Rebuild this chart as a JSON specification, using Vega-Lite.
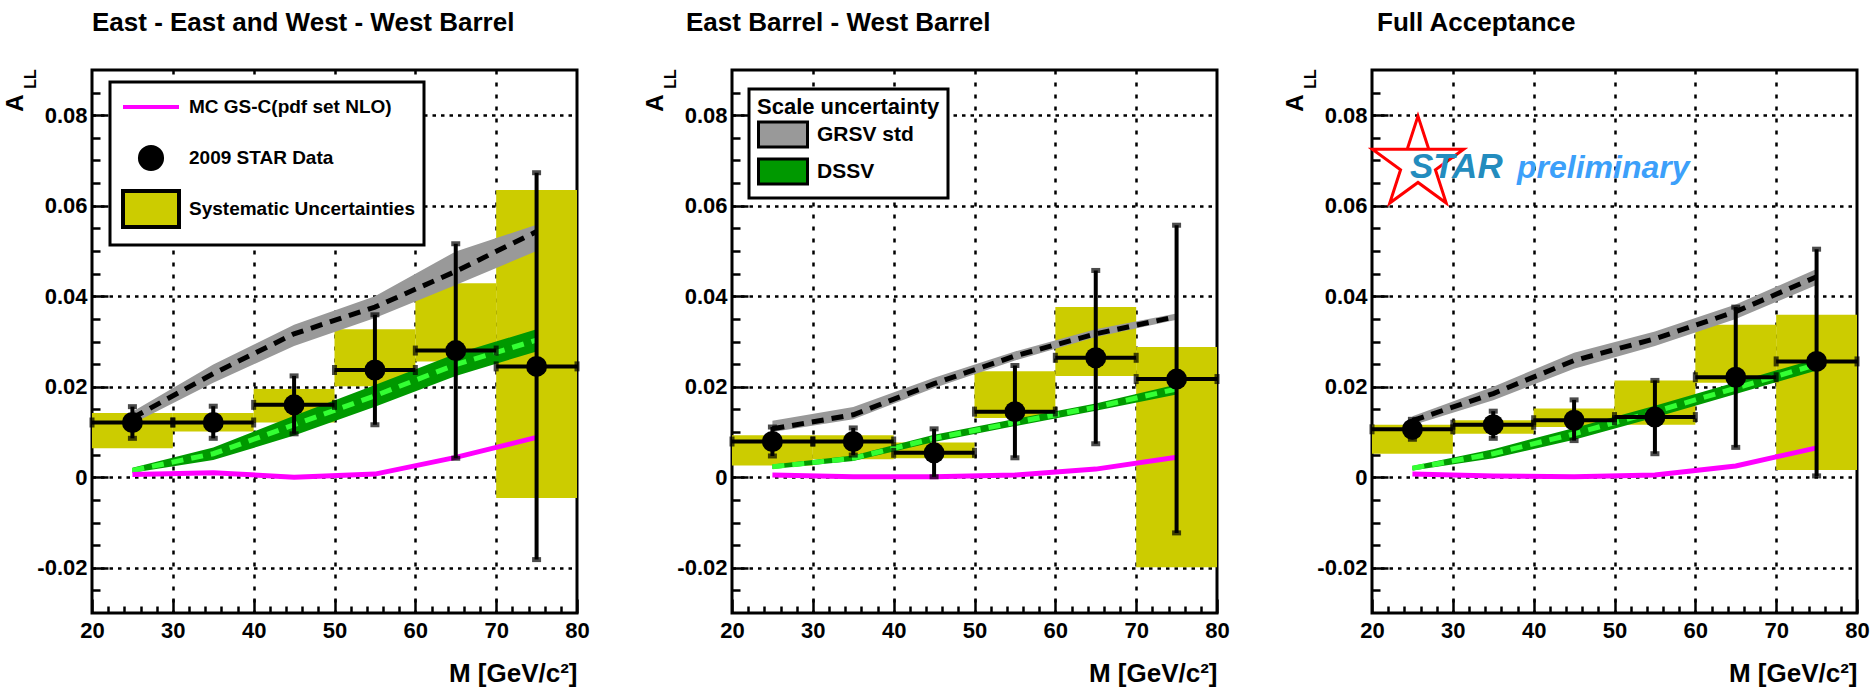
{
  "$schema": "https://vega.github.io/schema/vega-lite/v6.json",
  "background": "white",
  "padding": {"left": 1, "top": 8, "right": 5, "bottom": 5},
  "spacing": 155,
  "bounds": "flush",
  "datasets": {
    "points": [
      {"panel": 1, "M": 25, "A": 0.0121, "statLo": 0.0086, "statHi": 0.0156, "binLo": 20, "binHi": 30, "sysLo": 0.0064, "sysHi": 0.0142},
      {"panel": 1, "M": 35, "A": 0.0121, "statLo": 0.0086, "statHi": 0.0157, "binLo": 30, "binHi": 40, "sysLo": 0.0101, "sysHi": 0.0142},
      {"panel": 1, "M": 45, "A": 0.0160, "statLo": 0.0096, "statHi": 0.0224, "binLo": 40, "binHi": 50, "sysLo": 0.0121, "sysHi": 0.0195},
      {"panel": 1, "M": 55, "A": 0.0237, "statLo": 0.0116, "statHi": 0.0359, "binLo": 50, "binHi": 60, "sysLo": 0.0201, "sysHi": 0.0327},
      {"panel": 1, "M": 65, "A": 0.0280, "statLo": 0.0042, "statHi": 0.0516, "binLo": 60, "binHi": 70, "sysLo": 0.0256, "sysHi": 0.0429},
      {"panel": 1, "M": 75, "A": 0.0245, "statLo": -0.0182, "statHi": 0.0673, "binLo": 70, "binHi": 80, "sysLo": -0.0046, "sysHi": 0.0635},
      {"panel": 2, "M": 25, "A": 0.0079, "statLo": 0.0047, "statHi": 0.0111, "binLo": 20, "binHi": 30, "sysLo": 0.0026, "sysHi": 0.0093},
      {"panel": 2, "M": 35, "A": 0.0079, "statLo": 0.0049, "statHi": 0.0109, "binLo": 30, "binHi": 40, "sysLo": 0.0040, "sysHi": 0.0093},
      {"panel": 2, "M": 45, "A": 0.0054, "statLo": 0.0001, "statHi": 0.0107, "binLo": 40, "binHi": 50, "sysLo": 0.0042, "sysHi": 0.0077},
      {"panel": 2, "M": 55, "A": 0.0145, "statLo": 0.0043, "statHi": 0.0247, "binLo": 50, "binHi": 60, "sysLo": 0.0131, "sysHi": 0.0234},
      {"panel": 2, "M": 65, "A": 0.0264, "statLo": 0.0074, "statHi": 0.0457, "binLo": 60, "binHi": 70, "sysLo": 0.0224, "sysHi": 0.0376},
      {"panel": 2, "M": 75, "A": 0.0217, "statLo": -0.0123, "statHi": 0.0557, "binLo": 70, "binHi": 80, "sysLo": -0.0199, "sysHi": 0.0288},
      {"panel": 3, "M": 25, "A": 0.0106, "statLo": 0.0084, "statHi": 0.0128, "binLo": 20, "binHi": 30, "sysLo": 0.0052, "sysHi": 0.0116},
      {"panel": 3, "M": 35, "A": 0.0116, "statLo": 0.0086, "statHi": 0.0146, "binLo": 30, "binHi": 40, "sysLo": 0.0096, "sysHi": 0.0126},
      {"panel": 3, "M": 45, "A": 0.0126, "statLo": 0.0081, "statHi": 0.0171, "binLo": 40, "binHi": 50, "sysLo": 0.0111, "sysHi": 0.0152},
      {"panel": 3, "M": 55, "A": 0.0133, "statLo": 0.0052, "statHi": 0.0214, "binLo": 50, "binHi": 60, "sysLo": 0.0116, "sysHi": 0.0214},
      {"panel": 3, "M": 65, "A": 0.0221, "statLo": 0.0066, "statHi": 0.0376, "binLo": 60, "binHi": 70, "sysLo": 0.0209, "sysHi": 0.0337},
      {"panel": 3, "M": 75, "A": 0.0256, "statLo": 0.0003, "statHi": 0.0504, "binLo": 70, "binHi": 80, "sysLo": 0.0016, "sysHi": 0.0359}
    ],
    "theory": [
      {"panel": 1, "M": 25, "grsv": 0.0131, "grsvLo": 0.0118, "grsvHi": 0.0145, "dssv": 0.0015, "dssvLo": 0.0010, "dssvHi": 0.0021, "mc": 0.0006},
      {"panel": 1, "M": 35, "grsv": 0.0229, "grsvLo": 0.0209, "grsvHi": 0.0249, "dssv": 0.0052, "dssvLo": 0.0038, "dssvHi": 0.0066, "mc": 0.0010},
      {"panel": 1, "M": 45, "grsv": 0.0317, "grsvLo": 0.0290, "grsvHi": 0.0337, "dssv": 0.0116, "dssvLo": 0.0092, "dssvHi": 0.0136, "mc": 0.0000},
      {"panel": 1, "M": 55, "grsv": 0.0376, "grsvLo": 0.0352, "grsvHi": 0.0400, "dssv": 0.0180, "dssvLo": 0.0156, "dssvHi": 0.0204, "mc": 0.0007},
      {"panel": 1, "M": 65, "grsv": 0.0455, "grsvLo": 0.0425, "grsvHi": 0.0499, "dssv": 0.0249, "dssvLo": 0.0224, "dssvHi": 0.0273, "mc": 0.0044},
      {"panel": 1, "M": 75, "grsv": 0.0543, "grsvLo": 0.0500, "grsvHi": 0.0558, "dssv": 0.0303, "dssvLo": 0.0278, "dssvHi": 0.0327, "mc": 0.0088},
      {"panel": 2, "M": 25, "grsv": 0.0107, "grsvLo": 0.0100, "grsvHi": 0.0125, "dssv": 0.0023, "dssvLo": 0.0018, "dssvHi": 0.0028, "mc": 0.0005},
      {"panel": 2, "M": 35, "grsv": 0.0138, "grsvLo": 0.0128, "grsvHi": 0.0155, "dssv": 0.0042, "dssvLo": 0.0036, "dssvHi": 0.0048, "mc": 0.0001},
      {"panel": 2, "M": 45, "grsv": 0.0207, "grsvLo": 0.0197, "grsvHi": 0.0220, "dssv": 0.0086, "dssvLo": 0.0078, "dssvHi": 0.0094, "mc": 0.0001},
      {"panel": 2, "M": 55, "grsv": 0.0268, "grsvLo": 0.0258, "grsvHi": 0.0278, "dssv": 0.0121, "dssvLo": 0.0113, "dssvHi": 0.0129, "mc": 0.0005},
      {"panel": 2, "M": 65, "grsv": 0.0317, "grsvLo": 0.0310, "grsvHi": 0.0327, "dssv": 0.0155, "dssvLo": 0.0147, "dssvHi": 0.0163, "mc": 0.0018},
      {"panel": 2, "M": 75, "grsv": 0.0355, "grsvLo": 0.0348, "grsvHi": 0.0362, "dssv": 0.0195, "dssvLo": 0.0183, "dssvHi": 0.0205, "mc": 0.0044},
      {"panel": 3, "M": 25, "grsv": 0.0125, "grsvLo": 0.0115, "grsvHi": 0.0135, "dssv": 0.0020, "dssvLo": 0.0015, "dssvHi": 0.0025, "mc": 0.0007},
      {"panel": 3, "M": 35, "grsv": 0.0185, "grsvLo": 0.0170, "grsvHi": 0.0200, "dssv": 0.0052, "dssvLo": 0.0042, "dssvHi": 0.0062, "mc": 0.0003},
      {"panel": 3, "M": 45, "grsv": 0.0258, "grsvLo": 0.0240, "grsvHi": 0.0275, "dssv": 0.0096, "dssvLo": 0.0083, "dssvHi": 0.0109, "mc": 0.0001},
      {"panel": 3, "M": 55, "grsv": 0.0306, "grsvLo": 0.0290, "grsvHi": 0.0322, "dssv": 0.0145, "dssvLo": 0.0132, "dssvHi": 0.0158, "mc": 0.0005},
      {"panel": 3, "M": 65, "grsv": 0.0366, "grsvLo": 0.0350, "grsvHi": 0.0382, "dssv": 0.0197, "dssvLo": 0.0184, "dssvHi": 0.0210, "mc": 0.0025},
      {"panel": 3, "M": 75, "grsv": 0.0443, "grsvLo": 0.0425, "grsvHi": 0.0460, "dssv": 0.0249, "dssvLo": 0.0236, "dssvHi": 0.0262, "mc": 0.0065}
    ],
    "sub": [{"label": "LL", "M": 12.5, "A": 0.088}],
    "logoText": [
      {"label": "STAR", "M": 24.7, "A": 0.0661},
      {"label": "preliminary", "M": 37.94, "A": 0.0661}
    ],
    "logoStar": [{"M": 25.69, "A": 0.0692}]
  },
  "config": {
    "view": {"stroke": "black", "strokeWidth": 3},
    "font": "Liberation Sans",
    "title": {"font": "Liberation Sans", "fontSize": 26, "fontWeight": "bold", "color": "black", "anchor": "start", "frame": "group", "baseline": "alphabetic", "offset": 33},
    "axis": {
      "grid": true, "gridColor": "black", "gridWidth": 2.5,
      "tickColor": "black", "tickWidth": 2.5,
      "domain": false,
      "labelFont": "Liberation Sans", "labelFontSize": 22, "labelFontWeight": "bold", "labelColor": "black",
      "labelFlush": false, "labelOverlap": false,
      "titleFont": "Liberation Sans", "titleFontWeight": "bold", "titleColor": "black"
    },
    "legend": {
      "orient": "none",
      "labelFont": "Liberation Sans", "labelFontWeight": "bold", "labelColor": "black", "labelLimit": 0,
      "titleFont": "Liberation Sans", "titleFontWeight": "bold", "titleColor": "black", "titleLimit": 0,
      "strokeColor": "black", "fillColor": "white", "cornerRadius": 0, "strokeWidth": 3,
      "symbolOpacity": 1, "symbolStrokeWidth": 4, "gridAlign": "all"
    }
  },
  "resolve": {"scale": {"fill": "independent", "stroke": "independent", "shape": "independent"}},
  "hconcat": [
    {
      "width": 485, "height": 543,
      "title": {"text": "East - East and West - West Barrel", "dx": 0},
      "resolve": {"axis": {"x": "independent", "y": "independent"}},
      "layer": [
        {
          "data": {"name": "points"}, "transform": [{"filter": "datum.panel == 1"}],
          "mark": {"type": "rect", "color": "#cccc00"},
          "encoding": {
            "x": {"field": "binLo", "type": "quantitative", "scale": {"domain": [20, 80], "nice": false},
              "axis": {
                "values": [20,22,24,26,28,30,32,34,36,38,40,42,44,46,48,50,52,54,56,58,60,62,64,66,68,70,72,74,76,78,80],
                "format": "d",
                "labelExpr": "datum.value % 10 == 0 ? datum.label : ''",
                "tickSize": -14,
                "tickDash": {"condition": {"test": "datum.value % 10 == 0", "value": [14, 40]}, "value": [7, 40]},
                "gridOpacity": {"condition": {"test": "datum.value % 10 == 0 && datum.value > 20 && datum.value < 80", "value": 1}, "value": 0},
                "gridDash": [4, 8],
                "labelPadding": 21,
                "title": "M [GeV/c²]", "titleAnchor": "end", "titleAlign": "right", "titleBaseline": "alphabetic", "titleY": 68, "titleFontSize": 26
              }},
            "x2": {"field": "binHi"},
            "y": {"field": "sysLo", "type": "quantitative", "scale": {"domain": [-0.03, 0.09], "nice": false},
              "axis": {
                "values": [-0.025,-0.02,-0.015,-0.01,-0.005,0,0.005,0.01,0.015,0.02,0.025,0.03,0.035,0.04,0.045,0.05,0.055,0.06,0.065,0.07,0.075,0.08,0.085],
                "labelExpr": "abs(round(datum.value*1000)) % 20 == 0 ? (round(datum.value*1000) == 0 ? '0' : (datum.value < 0 ? '-' : '') + format(abs(datum.value), '.2f')) : ''",
                "tickSize": -16,
                "tickDash": {"condition": {"test": "abs(round(datum.value*1000)) % 20 == 0", "value": [16, 40]}, "value": [8, 40]},
                "gridOpacity": {"condition": {"test": "abs(round(datum.value*1000)) % 20 == 0", "value": 1}, "value": 0},
                "gridDash": [3.5, 5],
                "labelPadding": 21,
                "title": "A", "titleAngle": 270, "titleX": -70, "titleY": 24, "titleAlign": "right", "titleBaseline": "alphabetic", "titleFontSize": 24
              }},
            "y2": {"field": "sysHi"}
          }
        },
        {
          "data": {"name": "theory"}, "transform": [{"filter": "datum.panel == 1"}],
          "mark": {"type": "area", "color": "#999999"},
          "encoding": {"x": {"field": "M", "type": "quantitative", "axis": null}, "y": {"field": "grsvLo", "type": "quantitative", "axis": null}, "y2": {"field": "grsvHi"}}
        },
        {
          "data": {"name": "theory"}, "transform": [{"filter": "datum.panel == 1"}],
          "mark": {"type": "area", "color": "#009900"},
          "encoding": {"x": {"field": "M", "type": "quantitative", "axis": null}, "y": {"field": "dssvLo", "type": "quantitative", "axis": null}, "y2": {"field": "dssvHi"}}
        },
        {
          "data": {"name": "theory"}, "transform": [{"filter": "datum.panel == 1"}],
          "mark": {"type": "line", "color": "black", "strokeWidth": 5, "strokeDash": [12, 8]},
          "encoding": {"x": {"field": "M", "type": "quantitative", "axis": null}, "y": {"field": "grsv", "type": "quantitative", "axis": null}}
        },
        {
          "data": {"name": "theory"}, "transform": [{"filter": "datum.panel == 1"}],
          "mark": {"type": "line", "color": "#33ff33", "strokeWidth": 5, "strokeDash": [12, 8]},
          "encoding": {"x": {"field": "M", "type": "quantitative", "axis": null}, "y": {"field": "dssv", "type": "quantitative", "axis": null}}
        },
        {
          "data": {"name": "theory"}, "transform": [{"filter": "datum.panel == 1"}],
          "mark": {"type": "line", "color": "#ff00ff", "strokeWidth": 5},
          "encoding": {"x": {"field": "M", "type": "quantitative", "axis": null}, "y": {"field": "mc", "type": "quantitative", "axis": null}}
        },
        {
          "data": {"name": "points"}, "transform": [{"filter": "datum.panel == 1"}],
          "mark": {"type": "rule", "color": "black", "strokeWidth": 4},
          "encoding": {"x": {"field": "M", "type": "quantitative", "axis": null}, "y": {"field": "statLo", "type": "quantitative", "axis": null}, "y2": {"field": "statHi"}}
        },
        {
          "data": {"name": "points"}, "transform": [{"filter": "datum.panel == 1"}],
          "mark": {"type": "rule", "color": "black", "strokeWidth": 4},
          "encoding": {"x": {"field": "binLo", "type": "quantitative", "axis": null}, "x2": {"field": "binHi"}, "y": {"field": "A", "type": "quantitative", "axis": null}}
        },
        {
          "data": {"name": "points"}, "transform": [{"filter": "datum.panel == 1"}],
          "mark": {"type": "tick", "orient": "horizontal", "color": "black", "size": 9, "thickness": 5},
          "encoding": {"x": {"field": "M", "type": "quantitative", "axis": null}, "y": {"field": "statLo", "type": "quantitative", "axis": null}}
        },
        {
          "data": {"name": "points"}, "transform": [{"filter": "datum.panel == 1"}],
          "mark": {"type": "tick", "orient": "horizontal", "color": "black", "size": 9, "thickness": 5},
          "encoding": {"x": {"field": "M", "type": "quantitative", "axis": null}, "y": {"field": "statHi", "type": "quantitative", "axis": null}}
        },
        {
          "data": {"name": "points"}, "transform": [{"filter": "datum.panel == 1"}],
          "mark": {"type": "tick", "orient": "vertical", "color": "black", "size": 10, "thickness": 5},
          "encoding": {"x": {"field": "binLo", "type": "quantitative", "axis": null}, "y": {"field": "A", "type": "quantitative", "axis": null}}
        },
        {
          "data": {"name": "points"}, "transform": [{"filter": "datum.panel == 1"}],
          "mark": {"type": "tick", "orient": "vertical", "color": "black", "size": 10, "thickness": 5},
          "encoding": {"x": {"field": "binHi", "type": "quantitative", "axis": null}, "y": {"field": "A", "type": "quantitative", "axis": null}}
        },
        {
          "data": {"name": "points"}, "transform": [{"filter": "datum.panel == 1"}],
          "mark": {"type": "point", "filled": true, "color": "black", "size": 440, "opacity": 1},
          "encoding": {"x": {"field": "M", "type": "quantitative", "axis": null}, "y": {"field": "A", "type": "quantitative", "axis": null}}
        },
        {
          "data": {"name": "sub"},
          "mark": {"type": "text", "angle": 270, "align": "center", "baseline": "middle", "fontSize": 16, "fontWeight": "bold", "color": "black"},
          "encoding": {"x": {"field": "M", "type": "quantitative", "axis": null}, "y": {"field": "A", "type": "quantitative", "axis": null}, "text": {"field": "label"}}
        },
        {
          "data": {"values": [{"entry": "MC GS-C(pdf set NLO)"}, {"entry": "2009 STAR Data"}, {"entry": "Systematic Uncertainties"}]},
          "mark": {"type": "point", "filled": true, "opacity": 0},
          "encoding": {
            "shape": {"field": "entry", "type": "nominal",
              "scale": {"domain": ["MC GS-C(pdf set NLO)", "2009 STAR Data", "Systematic Uncertainties"],
                "range": ["M-2,0H2", "M-0.79,0A0.79,0.79 0 1,1 0.79,0A0.79,0.79 0 1,1 -0.79,0Z", "M-2,-1.29H2V1.29H-2Z"]},
              "legend": {"legendX": 18, "legendY": 12, "title": null, "symbolSize": 784, "symbolOffset": 16, "labelOffset": 22, "rowPadding": -3, "padding": 9, "labelFontSize": 19}},
            "fill": {"field": "entry", "type": "nominal",
              "scale": {"domain": ["MC GS-C(pdf set NLO)", "2009 STAR Data", "Systematic Uncertainties"], "range": ["transparent", "black", "#cccc00"]},
              "legend": {"legendX": 18, "legendY": 12, "title": null, "symbolSize": 784, "symbolOffset": 16, "labelOffset": 22, "rowPadding": -3, "padding": 9, "labelFontSize": 19}},
            "stroke": {"field": "entry", "type": "nominal",
              "scale": {"domain": ["MC GS-C(pdf set NLO)", "2009 STAR Data", "Systematic Uncertainties"], "range": ["#ff00ff", "black", "black"]},
              "legend": {"legendX": 18, "legendY": 12, "title": null, "symbolSize": 784, "symbolOffset": 16, "labelOffset": 22, "rowPadding": -3, "padding": 9, "labelFontSize": 19}}
          }
        }
      ]
    },
    {
      "width": 485, "height": 543,
      "title": {"text": "East Barrel - West Barrel", "dx": -46},
      "resolve": {"axis": {"x": "independent", "y": "independent"}},
      "layer": [
        {
          "data": {"name": "points"}, "transform": [{"filter": "datum.panel == 2"}],
          "mark": {"type": "rect", "color": "#cccc00"},
          "encoding": {
            "x": {"field": "binLo", "type": "quantitative", "scale": {"domain": [20, 80], "nice": false},
              "axis": {
                "values": [20,22,24,26,28,30,32,34,36,38,40,42,44,46,48,50,52,54,56,58,60,62,64,66,68,70,72,74,76,78,80],
                "format": "d",
                "labelExpr": "datum.value % 10 == 0 ? datum.label : ''",
                "tickSize": -14,
                "tickDash": {"condition": {"test": "datum.value % 10 == 0", "value": [14, 40]}, "value": [7, 40]},
                "gridOpacity": {"condition": {"test": "datum.value % 10 == 0 && datum.value > 20 && datum.value < 80", "value": 1}, "value": 0},
                "gridDash": [4, 8],
                "labelPadding": 21,
                "title": "M [GeV/c²]", "titleAnchor": "end", "titleAlign": "right", "titleBaseline": "alphabetic", "titleY": 68, "titleFontSize": 26
              }},
            "x2": {"field": "binHi"},
            "y": {"field": "sysLo", "type": "quantitative", "scale": {"domain": [-0.03, 0.09], "nice": false},
              "axis": {
                "values": [-0.025,-0.02,-0.015,-0.01,-0.005,0,0.005,0.01,0.015,0.02,0.025,0.03,0.035,0.04,0.045,0.05,0.055,0.06,0.065,0.07,0.075,0.08,0.085],
                "labelExpr": "abs(round(datum.value*1000)) % 20 == 0 ? (round(datum.value*1000) == 0 ? '0' : (datum.value < 0 ? '-' : '') + format(abs(datum.value), '.2f')) : ''",
                "tickSize": -16,
                "tickDash": {"condition": {"test": "abs(round(datum.value*1000)) % 20 == 0", "value": [16, 40]}, "value": [8, 40]},
                "gridOpacity": {"condition": {"test": "abs(round(datum.value*1000)) % 20 == 0", "value": 1}, "value": 0},
                "gridDash": [3.5, 5],
                "labelPadding": 21,
                "title": "A", "titleAngle": 270, "titleX": -70, "titleY": 24, "titleAlign": "right", "titleBaseline": "alphabetic", "titleFontSize": 24
              }},
            "y2": {"field": "sysHi"}
          }
        },
        {
          "data": {"name": "theory"}, "transform": [{"filter": "datum.panel == 2"}],
          "mark": {"type": "area", "color": "#999999"},
          "encoding": {"x": {"field": "M", "type": "quantitative", "axis": null}, "y": {"field": "grsvLo", "type": "quantitative", "axis": null}, "y2": {"field": "grsvHi"}}
        },
        {
          "data": {"name": "theory"}, "transform": [{"filter": "datum.panel == 2"}],
          "mark": {"type": "area", "color": "#009900"},
          "encoding": {"x": {"field": "M", "type": "quantitative", "axis": null}, "y": {"field": "dssvLo", "type": "quantitative", "axis": null}, "y2": {"field": "dssvHi"}}
        },
        {
          "data": {"name": "theory"}, "transform": [{"filter": "datum.panel == 2"}],
          "mark": {"type": "line", "color": "black", "strokeWidth": 5, "strokeDash": [12, 8]},
          "encoding": {"x": {"field": "M", "type": "quantitative", "axis": null}, "y": {"field": "grsv", "type": "quantitative", "axis": null}}
        },
        {
          "data": {"name": "theory"}, "transform": [{"filter": "datum.panel == 2"}],
          "mark": {"type": "line", "color": "#33ff33", "strokeWidth": 5, "strokeDash": [12, 8]},
          "encoding": {"x": {"field": "M", "type": "quantitative", "axis": null}, "y": {"field": "dssv", "type": "quantitative", "axis": null}}
        },
        {
          "data": {"name": "theory"}, "transform": [{"filter": "datum.panel == 2"}],
          "mark": {"type": "line", "color": "#ff00ff", "strokeWidth": 5},
          "encoding": {"x": {"field": "M", "type": "quantitative", "axis": null}, "y": {"field": "mc", "type": "quantitative", "axis": null}}
        },
        {
          "data": {"name": "points"}, "transform": [{"filter": "datum.panel == 2"}],
          "mark": {"type": "rule", "color": "black", "strokeWidth": 4},
          "encoding": {"x": {"field": "M", "type": "quantitative", "axis": null}, "y": {"field": "statLo", "type": "quantitative", "axis": null}, "y2": {"field": "statHi"}}
        },
        {
          "data": {"name": "points"}, "transform": [{"filter": "datum.panel == 2"}],
          "mark": {"type": "rule", "color": "black", "strokeWidth": 4},
          "encoding": {"x": {"field": "binLo", "type": "quantitative", "axis": null}, "x2": {"field": "binHi"}, "y": {"field": "A", "type": "quantitative", "axis": null}}
        },
        {
          "data": {"name": "points"}, "transform": [{"filter": "datum.panel == 2"}],
          "mark": {"type": "tick", "orient": "horizontal", "color": "black", "size": 9, "thickness": 5},
          "encoding": {"x": {"field": "M", "type": "quantitative", "axis": null}, "y": {"field": "statLo", "type": "quantitative", "axis": null}}
        },
        {
          "data": {"name": "points"}, "transform": [{"filter": "datum.panel == 2"}],
          "mark": {"type": "tick", "orient": "horizontal", "color": "black", "size": 9, "thickness": 5},
          "encoding": {"x": {"field": "M", "type": "quantitative", "axis": null}, "y": {"field": "statHi", "type": "quantitative", "axis": null}}
        },
        {
          "data": {"name": "points"}, "transform": [{"filter": "datum.panel == 2"}],
          "mark": {"type": "tick", "orient": "vertical", "color": "black", "size": 10, "thickness": 5},
          "encoding": {"x": {"field": "binLo", "type": "quantitative", "axis": null}, "y": {"field": "A", "type": "quantitative", "axis": null}}
        },
        {
          "data": {"name": "points"}, "transform": [{"filter": "datum.panel == 2"}],
          "mark": {"type": "tick", "orient": "vertical", "color": "black", "size": 10, "thickness": 5},
          "encoding": {"x": {"field": "binHi", "type": "quantitative", "axis": null}, "y": {"field": "A", "type": "quantitative", "axis": null}}
        },
        {
          "data": {"name": "points"}, "transform": [{"filter": "datum.panel == 2"}],
          "mark": {"type": "point", "filled": true, "color": "black", "size": 440, "opacity": 1},
          "encoding": {"x": {"field": "M", "type": "quantitative", "axis": null}, "y": {"field": "A", "type": "quantitative", "axis": null}}
        },
        {
          "data": {"name": "sub"},
          "mark": {"type": "text", "angle": 270, "align": "center", "baseline": "middle", "fontSize": 16, "fontWeight": "bold", "color": "black"},
          "encoding": {"x": {"field": "M", "type": "quantitative", "axis": null}, "y": {"field": "A", "type": "quantitative", "axis": null}, "text": {"field": "label"}}
        },
        {
          "data": {"values": [{"entry": "GRSV std"}, {"entry": "DSSV"}]},
          "mark": {"type": "point", "filled": true, "opacity": 0},
          "encoding": {
            "shape": {"field": "entry", "type": "nominal",
              "scale": {"domain": ["GRSV std", "DSSV"], "range": ["M-2.45,-1.25H2.45V1.25H-2.45Z", "M-2.45,-1.25H2.45V1.25H-2.45Z"]},
              "legend": {"legendX": 17, "legendY": 19, "title": "Scale uncertainty", "titleFontSize": 22, "titlePadding": 4, "symbolSize": 400, "symbolOffset": 14.5, "labelOffset": 22.5, "rowPadding": 0, "padding": 8, "labelFontSize": 21, "symbolStrokeWidth": 3}},
            "fill": {"field": "entry", "type": "nominal",
              "scale": {"domain": ["GRSV std", "DSSV"], "range": ["#999999", "#009900"]},
              "legend": {"legendX": 17, "legendY": 19, "title": "Scale uncertainty", "titleFontSize": 22, "titlePadding": 4, "symbolSize": 400, "symbolOffset": 14.5, "labelOffset": 22.5, "rowPadding": 0, "padding": 8, "labelFontSize": 21, "symbolStrokeWidth": 3}},
            "stroke": {"field": "entry", "type": "nominal",
              "scale": {"domain": ["GRSV std", "DSSV"], "range": ["black", "black"]},
              "legend": {"legendX": 17, "legendY": 19, "title": "Scale uncertainty", "titleFontSize": 22, "titlePadding": 4, "symbolSize": 400, "symbolOffset": 14.5, "labelOffset": 22.5, "rowPadding": 0, "padding": 8, "labelFontSize": 21, "symbolStrokeWidth": 3}}
          }
        }
      ]
    },
    {
      "width": 485, "height": 543,
      "title": {"text": "Full Acceptance", "dx": 5},
      "resolve": {"axis": {"x": "independent", "y": "independent"}},
      "layer": [
        {
          "data": {"name": "points"}, "transform": [{"filter": "datum.panel == 3"}],
          "mark": {"type": "rect", "color": "#cccc00"},
          "encoding": {
            "x": {"field": "binLo", "type": "quantitative", "scale": {"domain": [20, 80], "nice": false},
              "axis": {
                "values": [20,22,24,26,28,30,32,34,36,38,40,42,44,46,48,50,52,54,56,58,60,62,64,66,68,70,72,74,76,78,80],
                "format": "d",
                "labelExpr": "datum.value % 10 == 0 ? datum.label : ''",
                "tickSize": -14,
                "tickDash": {"condition": {"test": "datum.value % 10 == 0", "value": [14, 40]}, "value": [7, 40]},
                "gridOpacity": {"condition": {"test": "datum.value % 10 == 0 && datum.value > 20 && datum.value < 80", "value": 1}, "value": 0},
                "gridDash": [4, 8],
                "labelPadding": 21,
                "title": "M [GeV/c²]", "titleAnchor": "end", "titleAlign": "right", "titleBaseline": "alphabetic", "titleY": 68, "titleFontSize": 26
              }},
            "x2": {"field": "binHi"},
            "y": {"field": "sysLo", "type": "quantitative", "scale": {"domain": [-0.03, 0.09], "nice": false},
              "axis": {
                "values": [-0.025,-0.02,-0.015,-0.01,-0.005,0,0.005,0.01,0.015,0.02,0.025,0.03,0.035,0.04,0.045,0.05,0.055,0.06,0.065,0.07,0.075,0.08,0.085],
                "labelExpr": "abs(round(datum.value*1000)) % 20 == 0 ? (round(datum.value*1000) == 0 ? '0' : (datum.value < 0 ? '-' : '') + format(abs(datum.value), '.2f')) : ''",
                "tickSize": -16,
                "tickDash": {"condition": {"test": "abs(round(datum.value*1000)) % 20 == 0", "value": [16, 40]}, "value": [8, 40]},
                "gridOpacity": {"condition": {"test": "abs(round(datum.value*1000)) % 20 == 0", "value": 1}, "value": 0},
                "gridDash": [3.5, 5],
                "labelPadding": 21,
                "title": "A", "titleAngle": 270, "titleX": -70, "titleY": 24, "titleAlign": "right", "titleBaseline": "alphabetic", "titleFontSize": 24
              }},
            "y2": {"field": "sysHi"}
          }
        },
        {
          "data": {"name": "theory"}, "transform": [{"filter": "datum.panel == 3"}],
          "mark": {"type": "area", "color": "#999999"},
          "encoding": {"x": {"field": "M", "type": "quantitative", "axis": null}, "y": {"field": "grsvLo", "type": "quantitative", "axis": null}, "y2": {"field": "grsvHi"}}
        },
        {
          "data": {"name": "theory"}, "transform": [{"filter": "datum.panel == 3"}],
          "mark": {"type": "area", "color": "#009900"},
          "encoding": {"x": {"field": "M", "type": "quantitative", "axis": null}, "y": {"field": "dssvLo", "type": "quantitative", "axis": null}, "y2": {"field": "dssvHi"}}
        },
        {
          "data": {"name": "theory"}, "transform": [{"filter": "datum.panel == 3"}],
          "mark": {"type": "line", "color": "black", "strokeWidth": 5, "strokeDash": [12, 8]},
          "encoding": {"x": {"field": "M", "type": "quantitative", "axis": null}, "y": {"field": "grsv", "type": "quantitative", "axis": null}}
        },
        {
          "data": {"name": "theory"}, "transform": [{"filter": "datum.panel == 3"}],
          "mark": {"type": "line", "color": "#33ff33", "strokeWidth": 5, "strokeDash": [12, 8]},
          "encoding": {"x": {"field": "M", "type": "quantitative", "axis": null}, "y": {"field": "dssv", "type": "quantitative", "axis": null}}
        },
        {
          "data": {"name": "theory"}, "transform": [{"filter": "datum.panel == 3"}],
          "mark": {"type": "line", "color": "#ff00ff", "strokeWidth": 5},
          "encoding": {"x": {"field": "M", "type": "quantitative", "axis": null}, "y": {"field": "mc", "type": "quantitative", "axis": null}}
        },
        {
          "data": {"name": "points"}, "transform": [{"filter": "datum.panel == 3"}],
          "mark": {"type": "rule", "color": "black", "strokeWidth": 4},
          "encoding": {"x": {"field": "M", "type": "quantitative", "axis": null}, "y": {"field": "statLo", "type": "quantitative", "axis": null}, "y2": {"field": "statHi"}}
        },
        {
          "data": {"name": "points"}, "transform": [{"filter": "datum.panel == 3"}],
          "mark": {"type": "rule", "color": "black", "strokeWidth": 4},
          "encoding": {"x": {"field": "binLo", "type": "quantitative", "axis": null}, "x2": {"field": "binHi"}, "y": {"field": "A", "type": "quantitative", "axis": null}}
        },
        {
          "data": {"name": "points"}, "transform": [{"filter": "datum.panel == 3"}],
          "mark": {"type": "tick", "orient": "horizontal", "color": "black", "size": 9, "thickness": 5},
          "encoding": {"x": {"field": "M", "type": "quantitative", "axis": null}, "y": {"field": "statLo", "type": "quantitative", "axis": null}}
        },
        {
          "data": {"name": "points"}, "transform": [{"filter": "datum.panel == 3"}],
          "mark": {"type": "tick", "orient": "horizontal", "color": "black", "size": 9, "thickness": 5},
          "encoding": {"x": {"field": "M", "type": "quantitative", "axis": null}, "y": {"field": "statHi", "type": "quantitative", "axis": null}}
        },
        {
          "data": {"name": "points"}, "transform": [{"filter": "datum.panel == 3"}],
          "mark": {"type": "tick", "orient": "vertical", "color": "black", "size": 10, "thickness": 5},
          "encoding": {"x": {"field": "binLo", "type": "quantitative", "axis": null}, "y": {"field": "A", "type": "quantitative", "axis": null}}
        },
        {
          "data": {"name": "points"}, "transform": [{"filter": "datum.panel == 3"}],
          "mark": {"type": "tick", "orient": "vertical", "color": "black", "size": 10, "thickness": 5},
          "encoding": {"x": {"field": "binHi", "type": "quantitative", "axis": null}, "y": {"field": "A", "type": "quantitative", "axis": null}}
        },
        {
          "data": {"name": "points"}, "transform": [{"filter": "datum.panel == 3"}],
          "mark": {"type": "point", "filled": true, "color": "black", "size": 440, "opacity": 1},
          "encoding": {"x": {"field": "M", "type": "quantitative", "axis": null}, "y": {"field": "A", "type": "quantitative", "axis": null}}
        },
        {
          "data": {"name": "sub"},
          "mark": {"type": "text", "angle": 270, "align": "center", "baseline": "middle", "fontSize": 16, "fontWeight": "bold", "color": "black"},
          "encoding": {"x": {"field": "M", "type": "quantitative", "axis": null}, "y": {"field": "A", "type": "quantitative", "axis": null}, "text": {"field": "label"}}
        },
        {
          "data": {"name": "logoStar"},
          "mark": {"type": "point", "filled": false, "color": "#ff0000", "strokeWidth": 3, "opacity": 1, "size": 9216,
            "shape": "M0,-1L0.2245,-0.309L0.951,-0.309L0.363,0.118L0.588,0.809L0,0.382L-0.588,0.809L-0.363,0.118L-0.951,-0.309L-0.2245,-0.309ZM-0.2245,-0.309L0.2245,-0.309"},
          "encoding": {"x": {"field": "M", "type": "quantitative", "axis": null}, "y": {"field": "A", "type": "quantitative", "axis": null}}
        },
        {
          "data": {"name": "logoText"},
          "mark": {"type": "text", "align": "left", "baseline": "alphabetic", "fontWeight": "bold", "fontStyle": "italic", "font": "Liberation Sans"},
          "encoding": {
            "x": {"field": "M", "type": "quantitative", "axis": null},
            "y": {"field": "A", "type": "quantitative", "axis": null},
            "text": {"field": "label"},
            "color": {"field": "label", "type": "nominal", "scale": {"domain": ["STAR", "preliminary"], "range": ["#238cbe", "#3ca0fa"]}, "legend": null},
            "size": {"field": "label", "type": "nominal", "scale": {"type": "ordinal", "domain": ["STAR", "preliminary"], "range": [35, 32]}, "legend": null}
          }
        }
      ]
    }
  ]
}
